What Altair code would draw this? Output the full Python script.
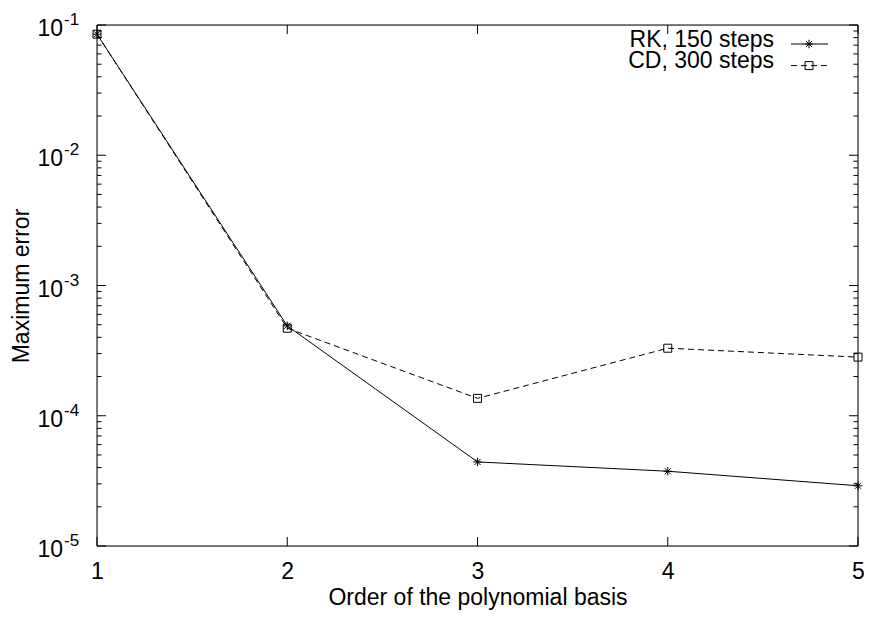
import altair as alt
import pandas as pd

# ---- data ----
order = [1, 2, 3, 4, 5]
rk_err = [0.085, 4.9e-4, 4.42e-5, 3.75e-5, 2.90e-5]
cd_err = [0.085, 4.7e-4, 1.36e-4, 3.30e-4, 2.82e-4]
legend_labels = ["RK, 150 steps", "CD, 300 steps"]
x_ticks = [1, 2, 3, 4, 5]
y_major = [1e-5, 1e-4, 1e-3, 1e-2, 1e-1]
y_exp = ["-5", "-4", "-3", "-2", "-1"]
y_minor = [k * d for d in [1e-5, 1e-4, 1e-3, 1e-2] for k in range(2, 10)]

W, H = 761, 521
FONT = "Liberation Sans"
FS = 23

df = pd.DataFrame({"order": order, "rk": rk_err, "cd": cd_err})
ymaj = pd.DataFrame({"v": y_major, "e": y_exp, "b": ["10"] * len(y_major)})
ymin = pd.DataFrame({"v": y_minor})
xt = pd.DataFrame({"x": x_ticks})
leg = pd.DataFrame({"label": legend_labels})

xs = alt.Scale(domain=[1, 5], nice=False, zero=False)
ys = alt.Scale(type="log", domain=[1e-5, 1e-1], nice=False)

star = "M-1,0L1,0M0,-1L0,1M-0.72,-0.72L0.72,0.72M-0.72,0.72L0.72,-0.72"

x_axis = alt.Axis(values=x_ticks, format="d", ticks=False, tickSize=0, domain=False, grid=False,
                  labelFontSize=FS, labelFont=FONT, labelColor="black", labelPadding=32,
                  labelBaseline="alphabetic", labelFlush=False,
                  title="Order of the polynomial basis", titleFontSize=FS, titleFont=FONT,
                  titleFontWeight="normal", titleColor="black", titleY=58, titleBaseline="alphabetic")
y_axis = alt.Axis(labels=False, ticks=False, tickSize=0, domain=False, grid=False,
                  title="Maximum error", titleFontSize=FS, titleFont=FONT, titleFontWeight="normal",
                  titleColor="black", titleX=-69, titleY=H / 2, titleAngle=270,
                  titleBaseline="alphabetic", titleAlign="center")


def X(field):
    return alt.X(field, scale=xs, axis=x_axis, title="Order of the polynomial basis")


def Y(field):
    return alt.Y(field, scale=ys, axis=y_axis, title="Maximum error")


base = alt.Chart(df)
rk_line = base.mark_line(color="black", strokeWidth=1).encode(x=X("order:Q"), y=Y("rk:Q"))
cd_line = base.mark_line(color="black", strokeWidth=1, strokeDash=[6, 4]).encode(x=X("order:Q"), y=Y("cd:Q"))
rk_pts = base.mark_point(shape=star, size=72, filled=False, stroke="black", strokeWidth=1,
                         opacity=1).encode(x=X("order:Q"), y=Y("rk:Q"))
cd_pts = base.mark_point(shape="square", size=64, filled=False, stroke="black", strokeWidth=1,
                         opacity=1).encode(x=X("order:Q"), y=Y("cd:Q"))


def yrules(data, x1, x2):
    return alt.Chart(data).mark_rule(color="black", strokeWidth=1).encode(
        y=Y("v:Q"), x=alt.value(x1), x2=alt.value(x2))


def xrules(y1, y2):
    return alt.Chart(xt).mark_rule(color="black", strokeWidth=1).encode(
        x=X("x:Q"), y=alt.value(y1), y2=alt.value(y2))


ticks = [
    yrules(ymaj, 0, 9), yrules(ymaj, W - 9, W),
    yrules(ymin, 0, 4.5), yrules(ymin, W - 4.5, W),
    xrules(H, H - 9), xrules(0, 9),
]

# plot frame
frame = [
    alt.Chart(leg.head(1)).mark_rule(color="black", strokeWidth=1).encode(
        x=alt.value(0), x2=alt.value(W), y=alt.value(0)),
    alt.Chart(leg.head(1)).mark_rule(color="black", strokeWidth=1).encode(
        x=alt.value(0), x2=alt.value(W), y=alt.value(H)),
    alt.Chart(leg.head(1)).mark_rule(color="black", strokeWidth=1).encode(
        x=alt.value(0), y=alt.value(0), y2=alt.value(H)),
    alt.Chart(leg.head(1)).mark_rule(color="black", strokeWidth=1).encode(
        x=alt.value(W), y=alt.value(0), y2=alt.value(H)),
]

ylab_base = alt.Chart(ymaj).mark_text(font=FONT, fontSize=FS, align="right", baseline="alphabetic",
                                      dy=11, color="black").encode(
    y=Y("v:Q"), x=alt.value(-34), text="b:N")
ylab_exp = alt.Chart(ymaj).mark_text(font=FONT, fontSize=17, align="left", baseline="alphabetic",
                                     color="black").encode(
    y=Y("v:Q"), x=alt.value(-33), text="e:N")

# legend (inside top-right, text left of the sample)
leg_rows = []
for i, (lab, dash, shape, size) in enumerate([(legend_labels[0], None, star, 72),
                                               (legend_labels[1], [6, 4], "square", 64)]):
    ly = 19 + i * 21.6
    d = leg[leg.label == lab]
    leg_rows.append(alt.Chart(d).mark_text(font=FONT, fontSize=FS, align="right", baseline="alphabetic",
                                           color="black").encode(
        text="label:N", x=alt.value(W - 84), y=alt.value(ly + 2.7)))
    rule_kw = dict(color="black", strokeWidth=1)
    if dash:
        rule_kw["strokeDash"] = dash
    leg_rows.append(alt.Chart(d).mark_rule(**rule_kw).encode(
        x=alt.value(W - 67), x2=alt.value(W - 30), y=alt.value(ly)))
    leg_rows.append(alt.Chart(d).mark_point(shape=shape, size=size, filled=False, stroke="black",
                                            strokeWidth=1, opacity=1).encode(
        x=alt.value(W - 49), y=alt.value(ly)))

chart = alt.layer(rk_line, cd_line, rk_pts, cd_pts, *ticks, *frame, ylab_base, ylab_exp,
                  *leg_rows).properties(
    width=W, height=H,
    autosize=alt.AutoSizeParams(type="none"),
    padding={"left": 89, "top": 17, "right": 6, "bottom": 66},
    background="white",
).configure_view(stroke=None).configure(font=FONT)

chart.save("out.html", embed_options={"renderer": "svg", "actions": False})
